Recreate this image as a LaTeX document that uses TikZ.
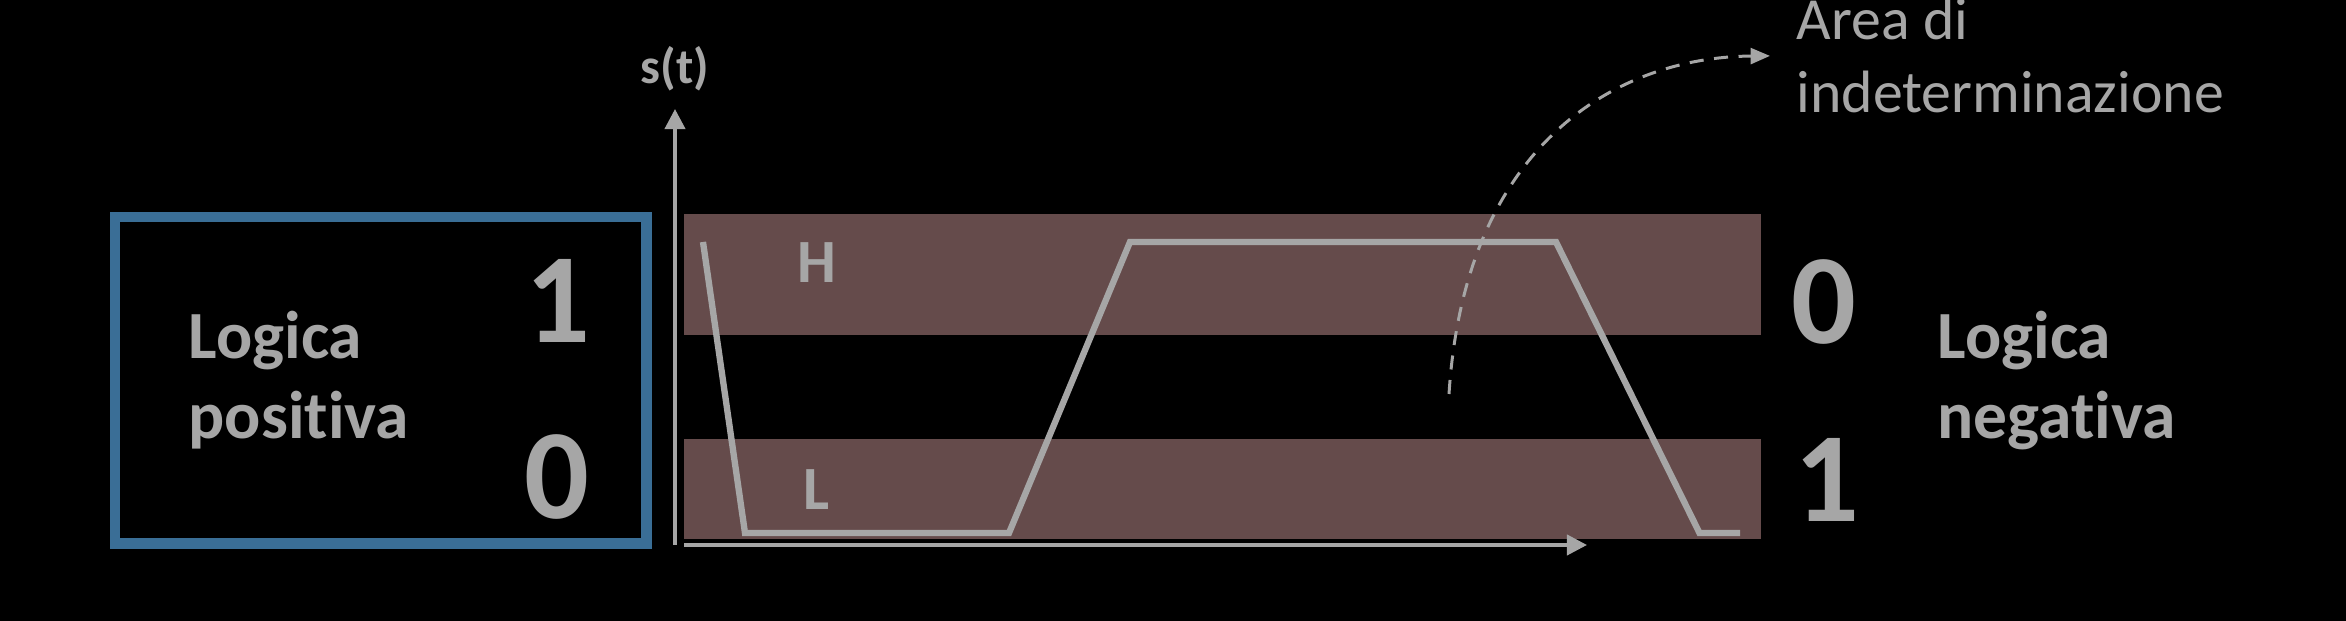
\documentclass[tikz,border=0pt]{standalone}
\usepackage{fontspec}
\setmainfont{Carlito}[Ligatures=NoCommon]
\usepackage{xcolor}
\usepackage{tikz}
\usetikzlibrary{arrows.meta,positioning,calc}

\definecolor{txtgrey}{HTML}{A6A6A6}
\definecolor{bandred}{HTML}{654B4B}
\definecolor{boxblue}{HTML}{3A6E96}

\begin{document}
\begin{tikzpicture}[
    band/.style={fill=bandred, draw=none},
    axis/.style={draw=txtgrey, line width=1.1pt, -{Triangle[length=5.7pt, width=5.7pt]}},
    signal/.style={draw=txtgrey, line width=1.8pt, line join=miter},
    logic/.style={text=txtgrey, inner sep=0pt, font=\bfseries\fontsize{19.2}{23}\selectfont, align=left, anchor=base west},
    digit/.style={text=txtgrey, inner sep=0pt, font=\bfseries\fontsize{36.4}{40}\selectfont, anchor=base},
    level/.style={text=txtgrey, inner sep=0pt, font=\bfseries\fontsize{17.5}{20}\selectfont, anchor=base west},
    note/.style={text=txtgrey, inner sep=0pt, font=\fontsize{17}{20.8}\selectfont, align=left, anchor=base west},
    pointer/.style={draw=txtgrey, line width=0.85pt, dash pattern=on 4pt off 3pt, -{Triangle[length=5.5pt, width=4.5pt]}}
]
    \fill[black] (0,0) rectangle (23.46,6.21);
    \useasboundingbox (0,0) rectangle (23.46,6.21);

    % bande H e L
    \fill[band] (6.84,2.855) rectangle (17.61,4.07);
    \fill[band] (6.84,0.824) rectangle (17.61,1.82);

    % logica positiva
    \draw[boxblue, line width=2.85pt] (1.15,0.775) rectangle (6.465,4.04);
    \node[logic] (pos) at (1.88,1.82) {Logica\\positiva};
    \node[digit] (pos1) at (5.58,2.78) {1};
    \node[digit] (pos0) at (5.57,1.02) {0};

    % assi
    \coordinate (ybot) at (6.75,0.76);
    \coordinate (ytop) at (6.75,5.12);
    \coordinate (xleft) at (6.84,0.76);
    \coordinate (xright) at (15.87,0.76);
    \draw[axis] (ybot) -- (ytop);
    \draw[axis] (xleft) -- (xright);
    \node[text=txtgrey, inner sep=0pt, font=\bfseries\fontsize{14.2}{17}\selectfont, anchor=base] (st) at (6.75,5.37) {s(t)};

    % segnale
    \draw[signal] (7.03,3.79) -- (7.45,0.88) -- (10.09,0.88) -- (11.30,3.79)
        -- (15.56,3.79) -- (16.995,0.88) -- (17.40,0.88);
    \node[level] (hlev) at (7.97,3.38) {H};
    \node[level] (llev) at (8.03,1.11) {L};

    % logica negativa
    \node[digit] (neg0) at (18.24,2.77) {0};
    \node[digit] (neg1) at (18.27,0.99) {1};
    \node[logic] (neg) at (19.37,1.82) {Logica\\negativa};

    % area di indeterminazione
    \node[note] (area) at (17.96,5.08) {Area di\\indeterminazione};
    \coordinate (dip) at (14.49,2.27);
    \draw[pointer] (dip) .. controls (14.65,4.8) and (16.2,5.64) .. ([xshift=-0.26cm]area.west);

\end{tikzpicture}
\end{document}
